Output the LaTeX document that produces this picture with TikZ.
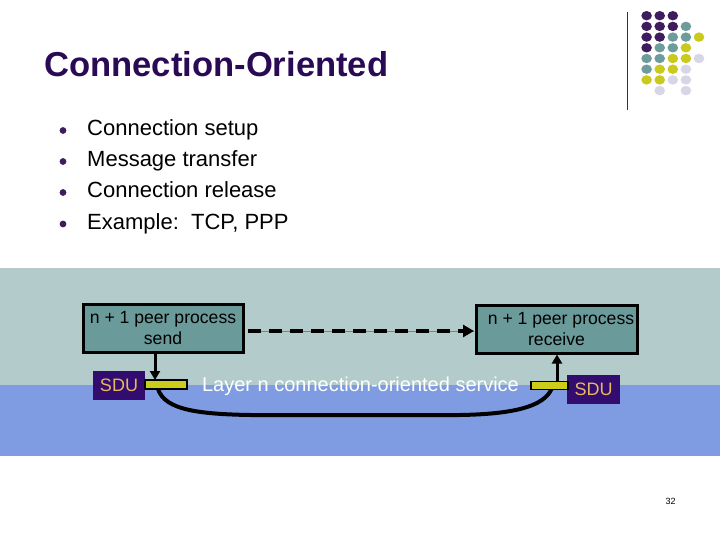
\documentclass[tikz,border=0pt]{standalone}
\usepackage{fontspec}
\setmainfont{Liberation Sans}
\usetikzlibrary{arrows.meta}
\definecolor{titlepurple}{HTML}{2A0A55}
\definecolor{dotP}{HTML}{3E1C5E}
\definecolor{dotT}{HTML}{6E9C9C}
\definecolor{dotY}{HTML}{C9C91E}
\definecolor{dotL}{HTML}{D6D6E6}
\definecolor{bandlight}{HTML}{B3CBCB}
\definecolor{bandblue}{HTML}{7F9BE2}
\definecolor{boxteal}{HTML}{6A9A9A}
\definecolor{sdupurple}{HTML}{320C6E}
\definecolor{sdutext}{HTML}{E8B860}
\definecolor{baryellow}{HTML}{CCCC1A}
\begin{document}
\begin{tikzpicture}[x=1pt,y=-1pt,
  peerbox/.style={draw=black,line width=3pt,fill=boxteal,minimum width=160pt,minimum height=48pt,inner sep=0pt,align=center,font=\fontsize{17.6}{21}\selectfont},
  sdubox/.style={fill=sdupurple,text=sdutext,minimum width=52pt,minimum height=29pt,inner sep=0pt,font=\fontsize{18}{20}\selectfont},
  sdubar/.style={draw=black,line width=1.2pt,fill=baryellow,inner sep=0pt},
  bul/.style={fill=dotP},
  bultext/.style={anchor=base west,inner sep=0pt,font=\fontsize{22}{24}\selectfont},
  vert/.style={line width=3pt,-{Triangle[length=9pt,width=10pt]}}
]
\useasboundingbox (0,0) rectangle (720,540);
\fill[white] (0,0) rectangle (720,540);

% decoration
\draw[black!80,line width=1pt] (627,12) -- (627,110);
\foreach \c/\r/\col in {0/0/dotP,1/0/dotP,2/0/dotP,
  0/1/dotP,1/1/dotP,2/1/dotP,3/1/dotT,
  0/2/dotP,1/2/dotP,2/2/dotT,3/2/dotT,4/2/dotY,
  0/3/dotP,1/3/dotT,2/3/dotT,3/3/dotY,
  0/4/dotT,1/4/dotT,2/4/dotY,3/4/dotY,4/4/dotL,
  0/5/dotT,1/5/dotY,2/5/dotY,3/5/dotL,
  0/6/dotY,1/6/dotY,2/6/dotL,3/6/dotL,
  1/7/dotL,3/7/dotL}
  \fill[\col] ({646.6+13.1*\c},{15.7+10.7*\r}) ellipse[x radius=5.3pt,y radius=4.7pt];

% title
\node[anchor=base west,inner sep=0pt,text=titlepurple,font=\fontsize{34.6}{38}\selectfont\bfseries] (title) at (44,77) {Connection-Oriented};

% bullets
\foreach \t/\y [count=\i] in {Connection setup/136,Message transfer/167,Connection release/198,{Example:\ \ TCP, PPP}/229.5}{
  \fill[bul] (63,\y-5.5) circle (3.4pt);
  \node[bultext] (b\i) at (87,\y) {\t};
}

% bands
\fill[bandlight] (0,268) rectangle (720,385);
\fill[bandblue] (0,385) rectangle (720,455.5);

% peer boxes
\node[peerbox] (send) at (163,328) {n + 1 peer process\\send};
\node[peerbox,minimum width=161pt] (recv) at (556.5,329) {\hspace*{9pt}n + 1 peer process\\receive};

% dashed arrow
\coordinate (dl) at (248,331);
\coordinate (dr) at (474,331);
\draw[gray,line width=0.7pt] (dl) -- (dr);
\draw[line width=4.5pt,dash pattern=on 13pt off 8pt,-{Triangle[length=11pt,width=12pt]}] (dl) -- (dr);

% curve (service)
\coordinate (cl) at (157,385);
\coordinate (cr) at (553,385);
\draw[line width=4pt] (cl) .. controls (161,408) and (190,414) .. (250,415) -- (460,415) .. controls (522,414) and (548,404) .. (cr);

% SDUs and bars
\node[sdubox] (sduL) at (119,385.5) {SDU};
\node[sdubox,minimum width=53pt] (sduR) at (593.5,389.5) {SDU};
\node[sdubar,minimum width=42pt,minimum height=9pt] (barL) at (166,384.5) {};
\node[sdubar,minimum width=37pt,minimum height=8pt] (barR) at (549.5,385.3) {};

% vertical arrows
\coordinate (dn) at (155,380);
\draw[vert] (send.south -| dn) -- (dn);
\coordinate (up) at (557,381.5);
\draw[vert] (up) -- (up |- recv.south);

% service label
\node[anchor=base,inner sep=0pt,text=white,font=\fontsize{20}{22}\selectfont] (svc) at (360.5,391.5) {Layer n connection-oriented service};

% page number
\node[font=\fontsize{9}{10}\selectfont,inner sep=0pt] (pg) at (670.5,501.5) {32};
\end{tikzpicture}
\end{document}
